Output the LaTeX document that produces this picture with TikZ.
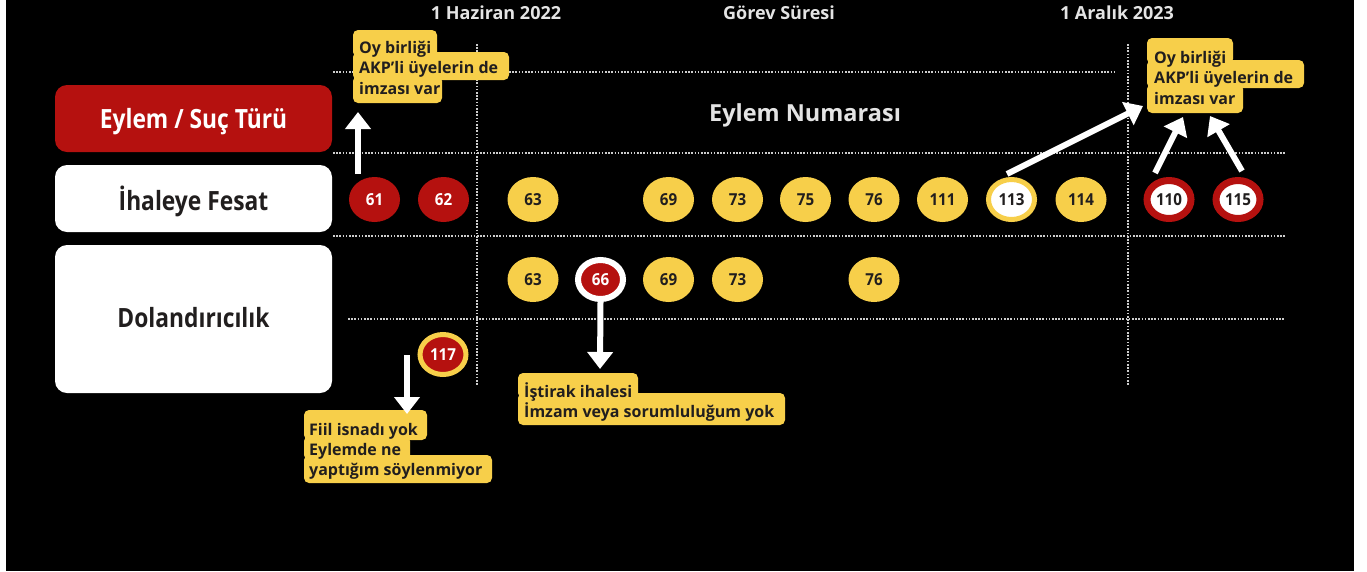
\documentclass[tikz,border=0pt]{standalone}
\usepackage{fontspec}
\setmainfont{Open Sans}
\newfontfamily\cnd[FakeStretch=0.92]{Open Sans}
\newfontfamily\cndlab[FakeStretch=0.86]{Open Sans}
\usetikzlibrary{shapes.geometric,arrows.meta}
\definecolor{cred}{RGB}{181,17,15}
\definecolor{cyel}{RGB}{247,207,74}
\definecolor{cdark}{RGB}{33,30,30}
\definecolor{cgray}{RGB}{205,205,205}
\definecolor{ctitle}{RGB}{228,228,228}
\begin{document}
\begin{tikzpicture}[x=1pt,y=-1pt,
  dots/.style={cgray,line width=1.6pt,dash pattern=on 1.6pt off 1.6pt},
  lab/.style={rounded corners=12pt,minimum width=277pt,inner sep=0pt,text depth=0pt,font=\cndlab\bfseries\fontsize{26.5}{31}\selectfont},
  ttl/.style={anchor=base,inner sep=0pt,text=ctitle,font=\bfseries\fontsize{18}{22}\selectfont},
  num/.style={ellipse,inner sep=0pt,font=\cnd\bfseries\fontsize{16.5}{19}\selectfont},
  yelc/.style={num,minimum width=51pt,minimum height=45pt,fill=cyel,text=cdark},
  redc/.style={num,minimum width=51pt,minimum height=45pt,fill=cred,text=white},
  ringy/.style={num,minimum width=46pt,minimum height=40pt,fill=white,draw=cyel,line width=5pt,text=cdark},
  ringr/.style={num,minimum width=44pt,minimum height=38pt,fill=white,draw=cred,line width=7pt,text=cdark},
  ringw/.style={num,minimum width=45pt,minimum height=39pt,fill=cred,draw=white,line width=6pt,text=white},
  ringyr/.style={num,minimum width=46pt,minimum height=40pt,fill=cred,draw=cyel,line width=5pt,text=white},
  cbox/.style={fill=cyel,rounded corners=5pt},
  ct/.style={anchor=base west,inner sep=0pt,text=cdark,font=\bfseries\fontsize{16}{19}\selectfont},
  arr/.style={white,line width=6pt,-{Triangle[width=25pt,length=17pt]}}
]
\useasboundingbox (0,0) rectangle (1367,571);
\fill[white] (0,0) rectangle (1367,571);
\fill[black] (6,0) rectangle (1354,571);

% titles
\node[ttl] (t1) at (496,19) {1 Haziran 2022};
\node[ttl] (t2) at (779,19) {Görev Süresi};
\node[ttl] (t3) at (1117,19) {1 Aralık 2023};
\node[anchor=base,inner sep=0pt,text=ctitle,font=\bfseries\fontsize{23.5}{28}\selectfont] (enum) at (805,121) {Eylem Numarası};

% grid
\draw[dots] (477,44) -- (477,385);
\draw[dots] (1128,44) -- (1128,385);
\draw[dots] (333,72) -- (1115,72);
\draw[dots] (333,153) -- (1285,153);
\draw[dots] (333,236) -- (1285,236);
\draw[dots] (348,319) -- (1285,319);

% left labels
\node[lab,fill=cred,text=white,minimum height=67pt,text height=19pt] (hdr) at (193.5,118.5) {Eylem / Suç Türü};
\node[lab,fill=white,text=cdark,minimum height=67pt,text height=24pt] (ihale) at (193.5,198.5) {İhaleye Fesat};
\node[lab,fill=white,text=cdark,minimum height=148pt,text height=16pt] (dolan) at (193.5,319) {Dolandırıcılık};

% callout 1
\fill[cbox] (353,30) rectangle (437,57);
\fill[cbox] (353,52) rectangle (509,80);
\fill[cbox] (353,76) rectangle (442,103);
\node[ct] (c1a) at (359,53) {Oy birliği};
\node[ct] (c1b) at (359,73.5) {AKP’li üyelerin de};
\node[ct] (c1c) at (359,94) {imzası var};

% callout 2
\fill[cbox] (1147,38) rectangle (1233,64);
\fill[cbox] (1147,60) rectangle (1304,88);
\fill[cbox] (1147,84) rectangle (1243,113);
\node[ct] (c2a) at (1154,63) {Oy birliği};
\node[ct] (c2b) at (1154,83.5) {AKP’li üyelerin de};
\node[ct] (c2c) at (1154,104) {imzası var};

% callout 3
\fill[cbox] (518,373) rectangle (638,398);
\fill[cbox] (518,393) rectangle (785,425);
\node[ct] (c3a) at (524,397) {İştirak ihalesi};
\node[ct] (c3b) at (524,417) {İmzam veya sorumluluğum yok};

% callout 4
\fill[cbox] (304,410) rectangle (427,440);
\fill[cbox] (304,436) rectangle (410,460);
\fill[cbox] (304,455) rectangle (492,483);
\node[ct] (c4a) at (309,435) {Fiil isnadı yok};
\node[ct] (c4b) at (309,455) {Eylemde ne};
\node[ct] (c4c) at (309,475) {yaptığım söylenmiyor};

% row 1
\node[redc] (n61) at (374.5,199.5) {61};
\node[redc] (n62) at (443.5,199.5) {62};
\node[yelc] (n63) at (533,199.5) {63};
\node[yelc] (n69) at (668.5,199.5) {69};
\node[yelc] (n73) at (737.5,199.5) {73};
\node[yelc] (n75) at (805.5,199.5) {75};
\node[yelc] (n76) at (874,199.5) {76};
\node[yelc] (n111) at (942.5,199.5) {111};
\node[ringy] (n113) at (1011.5,199.5) {113};
\node[yelc] (n114) at (1081,199.5) {114};
\node[ringr] (n110) at (1169,199.5) {110};
\node[ringr] (n115) at (1238,199.5) {115};

% row 2
\node[yelc] (m63) at (533,279.5) {63};
\node[ringw] (m66) at (600.5,279.5) {66};
\node[yelc] (m69) at (668.5,279.5) {69};
\node[yelc] (m73) at (737.5,279.5) {73};
\node[yelc] (m76) at (874,279.5) {76};
\node[ringyr] (n117) at (443,354.5) {117};

% arrows
\coordinate (a1s) at (358,174);
\coordinate (a1e) at (358,112);
\coordinate (a2s) at (1007,174);
\coordinate (a2e) at (1143,106);
\coordinate (a3s) at (1155,173);
\coordinate (a3e) at (1183,117);
\coordinate (a4s) at (1242,171);
\coordinate (a4e) at (1210,116);
\coordinate (a5e) at (600,369);
\coordinate (a6s) at (407,355);
\coordinate (a6e) at (407,414);
\draw[arr] (a1s) -- (a1e);
\draw[arr] (a2s) -- (a2e);
\draw[arr] (a3s) -- (a3e);
\draw[arr] (a4s) -- (a4e);
\draw[arr] (m66.south) -- (a5e);
\draw[arr] (a6s) -- (a6e);
\end{tikzpicture}
\end{document}
